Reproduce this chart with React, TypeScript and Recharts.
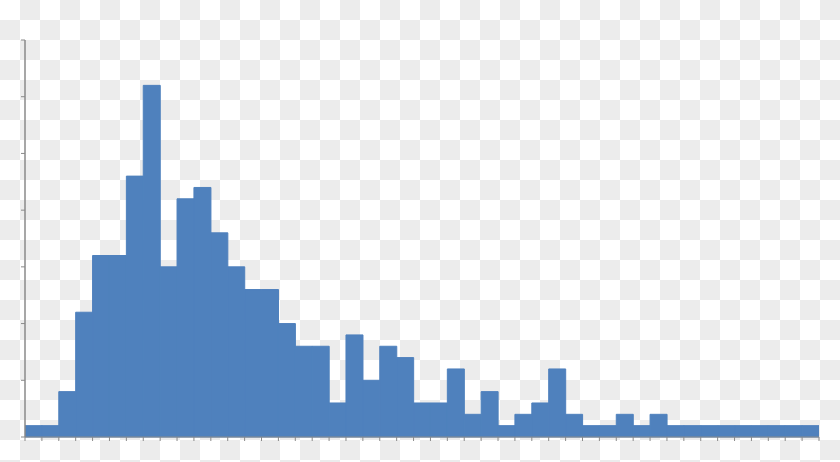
import React from 'react';
import { BarChart, Bar, XAxis, YAxis } from 'recharts';

// counts per bin (47 equal bins)
const binCounts = [
    1, 1, 4, 11, 16, 16, 23, 31, 15, 21, 22, 18, 15, 13, 13, 10, 8, 8, 3, 9,
    5, 8, 7, 3, 3, 6, 2, 4, 1, 2, 3, 6, 2, 1, 1, 2, 1, 2, 1, 1,
    1, 1, 1, 1, 1, 1, 1,
];
const yTicks = [0, 5, 10, 15, 20, 25, 30, 35];
const binEdges = Array.from({ length: binCounts.length + 1 }, (_, i) => i);

// each bar sits at the middle of its bin on a numeric axis
const data = binCounts.map((count, i) => ({ mid: i + 0.5, count }));

const AXIS = '#8a8a8a';

export default function App() {
    return (
        <div
            style={{
                position: 'absolute',
                left: 0,
                top: 0,
                width: 840,
                height: 462,
                backgroundColor: '#fff',
                backgroundImage: 'conic-gradient(#ececec 25%, #fff 0 50%, #ececec 0 75%, #fff 0)',
                backgroundSize: '40px 40px',
            }}
        >
            <BarChart
                width={840}
                height={462}
                data={data}
                barCategoryGap={0}
                barGap={0}
                margin={{ top: 40, right: 21, bottom: 20, left: 5 }}
            >
                <XAxis
                    dataKey="mid"
                    type="number"
                    domain={[0, binCounts.length]}
                    ticks={binEdges}
                    interval={0}
                    allowDataOverflow
                    height={5}
                    tickFormatter={() => ''}
                    tickSize={4}
                    stroke={AXIS}
                    tickLine={{ stroke: AXIS }}
                    axisLine={{ stroke: AXIS }}
                />
                <YAxis
                    width={20}
                    domain={[0, 35]}
                    ticks={yTicks}
                    interval={0}
                    tickFormatter={() => ''}
                    tickSize={4}
                    stroke={AXIS}
                    tickLine={{ stroke: AXIS }}
                    axisLine={{ stroke: AXIS, strokeWidth: 1.5 }}
                />
                <Bar
                    dataKey="count"
                    fill="#4f81bd"
                    stroke="#4f81bd"
                    strokeWidth={1}
                    isAnimationActive={false}
                />
            </BarChart>
        </div>
    );
}
